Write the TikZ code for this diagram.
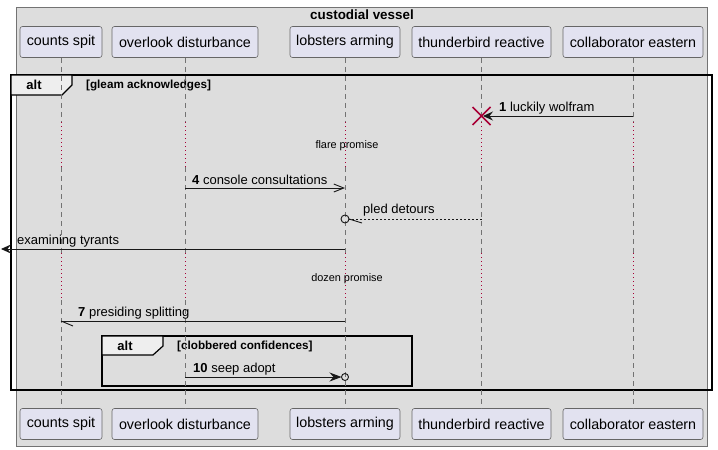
\documentclass[tikz,border=0pt]{standalone}
\usepackage{fontspec}
\setmainfont{Liberation Sans}
\usetikzlibrary{arrows.meta}
\definecolor{bgbox}{HTML}{DDDDDD}
\definecolor{partfill}{HTML}{E2E2F0}
\definecolor{tabfill}{HTML}{EEEEEE}
\definecolor{plred}{HTML}{A80036}
\definecolor{ink}{HTML}{181818}
\begin{document}
\begin{tikzpicture}[x=1pt,y=-1pt,
  part/.style={draw=black!60, line width=0.6pt, fill=partfill, rounded corners=2.5pt, minimum height=31pt, inner sep=0pt, font=\fontsize{14.3}{16}\selectfont},
  life/.style={draw=black!55, line width=0.6pt, dash pattern=on 5pt off 4pt},
  dl/.style={draw=plred, line width=0.8pt, dash pattern=on 1pt off 3pt},
  msg/.style={draw=ink, line width=0.9pt},
  lbl/.style={anchor=base west, inner sep=0pt, font=\fontsize{13}{15}\selectfont, text=black},
  frame/.style={draw=black, line width=1.5pt},
  tab/.style={draw=black, line width=1.2pt, fill=tabfill},
  altlbl/.style={inner sep=0pt, font=\bfseries\fontsize{13}{15}\selectfont},
  guard/.style={anchor=west, inner sep=0pt, font=\bfseries\fontsize{11.7}{13}\selectfont},
  delaytxt/.style={inner sep=0pt, font=\fontsize{10.9}{12}\selectfont},
  filled/.style={-{Stealth[length=10pt,width=9pt,inset=3.5pt]}},
  openhead/.style={-{Straight Barb[length=10pt,width=8pt]}}
]
\useasboundingbox (0,0) rectangle (718,450);
% outer box
\draw[draw=black!55, line width=0.6pt, fill=bgbox] (16,7) rectangle (707,446);
\node[font=\bfseries\fontsize{13.4}{15}\selectfont, inner sep=0pt] (title) at (362,15) {custodial vessel};

% alt frames
\draw[frame] (11,75) rectangle (712,390);
\draw[tab] (11,75) -- (72,75) -- (72,85) -- (62,95) -- (11,95) -- cycle;
\node[altlbl] (alt1) at (34,85) {alt};
\node[guard] (g1) at (86,85) {[gleam acknowledges]};

\draw[frame] (102,336) rectangle (412,386);
\draw[tab] (102,336) -- (163,336) -- (163,346) -- (153,355) -- (102,355) -- cycle;
\node[altlbl] (alt2) at (125,346) {alt};
\node[guard] (g2) at (177,346) {[clobbered confidences]};

% participants
\node[part, minimum width=82pt] (cs-top) at (61,42) {counts spit};
\node[part, minimum width=146pt] (ov-top) at (185,42) {overlook disturbance};
\node[part, minimum width=110pt] (lb-top) at (345,42) {lobsters arming};
\node[part, minimum width=139pt] (tb-top) at (481.5,42) {thunderbird reactive};
\node[part, minimum width=140pt] (ce-top) at (633,42) {collaborator eastern};
\node[part, minimum width=82pt] (cs-bot) at (61,424) {counts spit};
\node[part, minimum width=146pt] (ov-bot) at (185,424) {overlook disturbance};
\node[part, minimum width=110pt] (lb-bot) at (345,424) {lobsters arming};
\node[part, minimum width=139pt] (tb-bot) at (481.5,424) {thunderbird reactive};
\node[part, minimum width=140pt] (ce-bot) at (633,424) {collaborator eastern};

% lifelines
\coordinate (d1a) at (0,122);
\coordinate (d1b) at (0,167);
\coordinate (d2a) at (0,253);
\coordinate (d2b) at (0,300);
\foreach \p in {cs,ov,lb,tb,ce}{
  \draw[life] (\p-top.south) -- (\p-top.south |- d1a);
  \draw[dl] (\p-top.south |- d1a) -- (\p-top.south |- d1b);
  \draw[life] (\p-top.south |- d1b) -- (\p-top.south |- d2a);
  \draw[dl] (\p-top.south |- d2a) -- (\p-top.south |- d2b);
  \draw[life] (\p-top.south |- d2b) -- (\p-bot.north);
}

% message 1
\coordinate (y1) at (0,116);
\coordinate (x1) at (tb-top |- y1);
\draw[msg, filled] (ce-top |- y1) -- ([xshift=1.5pt]x1);
\draw[plred, line width=1.6pt] ([shift={(-9,-9)}]x1) -- ([shift={(9,9)}]x1)
  ([shift={(-9,9)}]x1) -- ([shift={(9,-9)}]x1);
\node[lbl] (l1) at (499,111) {\textbf{1} luckily wolfram};

% delay 1
\node[delaytxt] (dt1) at (347,146) {flare promise};

% message 4
\coordinate (y4) at (0,188);
\draw[msg, openhead] (ov-top |- y4) -- (lb-top |- y4);
\node[lbl] (l4) at (192,184) {\textbf{4} console consultations};

% message pled detours
\coordinate (y5) at (0,219);
\coordinate (c5) at (lb-top |- y5);
\draw[msg, dash pattern=on 2pt off 2pt] (tb-top |- y5) -- ([xshift=4pt]c5);
\draw[msg] ([xshift=4pt]c5) -- ([shift={(17,4)}]c5);
\draw[msg] (c5) circle (4pt);
\node[lbl] (l5) at (363,213) {pled detours};

% message examining tyrants
\coordinate (y6) at (0,249);
\coordinate (lost) at (1,249);
\draw[msg, filled] (lb-top |- y6) -- (lost);
\node[lbl] (l6) at (17,244) {examining tyrants};

% delay 2
\node[delaytxt] (dt2) at (347,279) {dozen promise};

% message 7
\coordinate (y7) at (0,321);
\coordinate (c7) at (cs-top |- y7);
\draw[msg] (lb-top |- y7) -- (c7);
\draw[msg] (c7) -- ([shift={(12,5)}]c7);
\node[lbl] (l7) at (78,316.5) {\textbf{7} presiding splitting};

% message 10
\coordinate (y10) at (0,377);
\coordinate (c10) at (lb-top |- y10);
\draw[msg, -{Stealth[length=12pt,width=9pt,inset=4pt]}] (ov-top |- y10) -- ([xshift=-3.5pt]c10);
\draw[msg] (c10) circle (3.5pt);
\node[lbl] (l10) at (193,372) {\textbf{10} seep adopt};
\end{tikzpicture}
\end{document}
